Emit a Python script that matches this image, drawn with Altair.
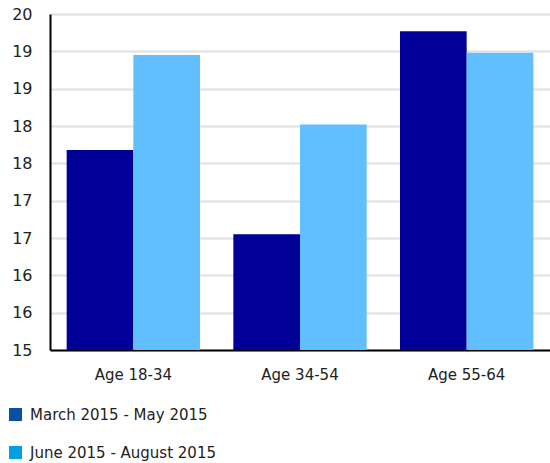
import altair as alt
import pandas as pd

# Survey groups and the two reporting periods
groups = ["Age 18-34", "Age 34-54", "Age 55-64"]
periods = ["March 2015 - May 2015", "June 2015 - August 2015"]
mar_may = [17.68, 16.55, 19.27]
jun_aug = [18.95, 18.02, 18.98]

bar_colors = ["#000099", "#62BFFF"]
legend_colors = ["#0B4EA2", "#00A0E3"]
y_ticks = [15, 15.5, 16, 16.5, 17, 17.5, 18, 18.5, 19, 19.5]

rows = []
for g, a, b in zip(groups, mar_may, jun_aug):
    rows.append({"group": g, "period": periods[0], "value": a})
    rows.append({"group": g, "period": periods[1], "value": b})
df = pd.DataFrame(rows)

FONT = "DejaVu Sans"
TEXT = "#222222"

x_enc = alt.X(
    "group:N",
    sort=groups,
    title=None,
    scale=alt.Scale(paddingInner=0.2, paddingOuter=0.1),
    axis=alt.Axis(
        labelAngle=0,
        ticks=False,
        domainColor="#000000",
        domainWidth=2,
        labelPadding=17,
        labelFontSize=15,
        labelFont=FONT,
        labelColor=TEXT,
        grid=False,
    ),
)
xoff_enc = alt.XOffset("period:N", sort=periods)
y_enc = alt.Y(
    "value:Q",
    title=None,
    scale=alt.Scale(domain=[15, 19.5], zero=False, nice=False),
    axis=alt.Axis(
        values=y_ticks,
        format=".0f",
        ticks=False,
        domainColor="#000000",
        domainWidth=2,
        gridColor="#E0E0E0",
        gridWidth=2,
        labelPadding=18,
        labelFontSize=16,
        labelFont=FONT,
        labelColor=TEXT,
    ),
)

base = alt.Chart(df)

bars = base.mark_bar(clip=True).encode(
    x=x_enc,
    xOffset=xoff_enc,
    y=y_enc,
    y2=alt.datum(15),
    color=alt.Color(
        "period:N",
        sort=periods,
        scale=alt.Scale(domain=periods, range=bar_colors),
        legend=None,
    ),
)

# Transparent layer that only carries the legend swatches
key = base.mark_square(opacity=0).encode(
    x=x_enc,
    xOffset=xoff_enc,
    y=y_enc,
    color=alt.Color(
        "period:N",
        sort=periods,
        scale=alt.Scale(domain=periods, range=legend_colors),
        legend=alt.Legend(
            title=None,
            orient="none",
            legendX=-42,
            legendY=393,
            direction="vertical",
            symbolType="square",
            symbolSize=169,
            symbolOpacity=1,
            symbolStrokeWidth=0,
            labelFont=FONT,
            labelFontSize=15,
            labelColor=TEXT,
            labelOffset=7,
            rowPadding=22,
            padding=0,
            labelLimit=400,
        ),
    ),
)

chart = (
    alt.layer(bars, key)
    .resolve_scale(color="independent")
    .resolve_legend(color="independent")
    .properties(
        width=500,
        height=336,
        autosize=alt.AutoSizeParams(type="none"),
        padding={"left": 50, "top": 14, "right": 0, "bottom": 113},
        background="#FFFFFF",
    )
    .configure_view(stroke=None)
)

chart.save("out.html", embed_options={"renderer": "svg", "actions": False})
